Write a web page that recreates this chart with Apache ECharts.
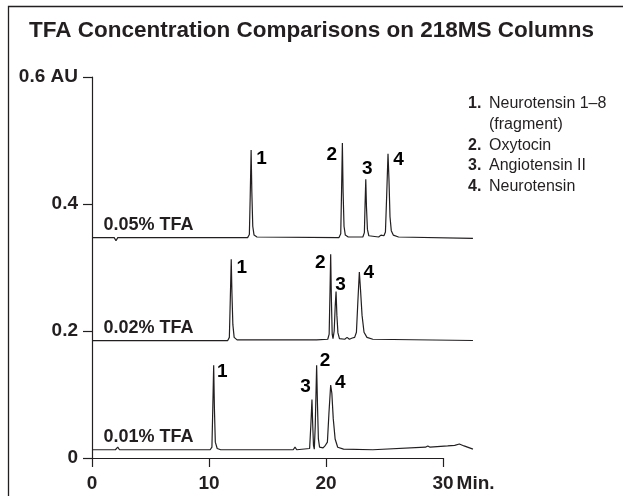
<!DOCTYPE html>
<html>
<head>
<meta charset="utf-8">
<script src="https://cdn.jsdelivr.net/npm/echarts@6/dist/echarts.min.js"></script>
<style>
html,body{margin:0;padding:0;background:#fff;}
#chart{width:623px;height:496px;}
</style>
</head>
<body>
<div id="chart"></div>
<script>
// ---- data ----
const titleText = 'TFA Concentration Comparisons on 218MS Columns';
const xTicks = [0, 10, 20, 30];
const yTicks = [0, 0.2, 0.4, 0.6];
const xUnit = 'Min.';
const yUnit = 'AU';
const traceNames = ['0.05% TFA', '0.02% TFA', '0.01% TFA'];
const peakIds = ['1', '2', '3', '4'];
const compounds = ['Neurotensin 1–8\n(fragment)', 'Oxytocin', 'Angiotensin II', 'Neurotensin'];

// time (min), absorbance (AU, offset traces)
const trace005 = [[0,0.347],[1.9,0.347],[2.05,0.342],[2.2,0.347],[13.3,0.347],[13.45,0.352],[13.52,0.41],[13.6,0.485],[13.66,0.42],[13.74,0.365],[13.85,0.351],[14.1,0.348],[21.1,0.347],[21.26,0.353],[21.33,0.42],[21.4,0.496],[21.46,0.42],[21.54,0.365],[21.65,0.351],[21.9,0.348],[23.15,0.348],[23.28,0.355],[23.34,0.40],[23.4,0.439],[23.46,0.395],[23.54,0.36],[23.66,0.35],[24.5,0.348],[24.7,0.351],[24.82,0.349],[24.95,0.350],[25.08,0.356],[25.18,0.41],[25.3,0.479],[25.38,0.44],[25.47,0.38],[25.58,0.358],[25.75,0.351],[26.2,0.348],[32.56,0.346]];
const trace002 = [[0,0.185],[1.9,0.185],[2.05,0.182],[2.2,0.185],[11.6,0.185],[11.74,0.19],[11.82,0.25],[11.9,0.313],[11.96,0.26],[12.04,0.21],[12.15,0.19],[12.4,0.186],[18.9,0.186],[19.05,0.189],[19.2,0.186],[20.15,0.187],[20.27,0.195],[20.34,0.26],[20.4,0.321],[20.46,0.25],[20.53,0.195],[20.6,0.188],[20.7,0.2],[20.79,0.24],[20.86,0.262],[20.93,0.225],[21.02,0.197],[21.15,0.188],[21.6,0.187],[21.8,0.19],[22.0,0.187],[22.25,0.189],[22.45,0.19],[22.6,0.198],[22.72,0.245],[22.85,0.293],[22.95,0.265],[23.08,0.225],[23.25,0.198],[23.5,0.19],[24.0,0.187],[32.56,0.185]];
const trace001 = [[0,0.013],[2.0,0.013],[2.2,0.017],[2.35,0.013],[10.1,0.013],[10.25,0.017],[10.32,0.075],[10.4,0.146],[10.46,0.08],[10.54,0.025],[10.7,0.015],[11.0,0.013],[17.2,0.013],[17.35,0.017],[17.5,0.013],[18.6,0.015],[18.7,0.05],[18.8,0.092],[18.86,0.055],[18.93,0.02],[19.0,0.014],[19.08,0.05],[19.2,0.146],[19.27,0.085],[19.35,0.03],[19.45,0.017],[19.6,0.019],[19.75,0.016],[19.95,0.02],[20.12,0.025],[20.25,0.07],[20.4,0.115],[20.5,0.102],[20.62,0.062],[20.78,0.03],[21.0,0.017],[21.5,0.014],[24.0,0.013],[28.5,0.017],[28.7,0.019],[28.9,0.017],[30.4,0.019],[31.0,0.02],[31.4,0.022],[31.8,0.019],[32.56,0.014]];

// peak apexes per trace, in order of peakIds
const peaks005 = [[13.6,0.485],[21.4,0.496],[23.4,0.439],[25.3,0.479]];
const peaks002 = [[11.9,0.313],[20.4,0.321],[20.86,0.262],[22.85,0.293]];
const peaks001 = [[10.4,0.146],[19.2,0.146],[18.8,0.092],[20.4,0.115]];

// ---- styles / layout ----
const INK = '#231f20';
const FONT = 'Liberation Sans, Arial, sans-serif';
const gridLeft = 92, gridTop = 77, gridBottom = 38;
const axisWidth = 351;           // 0..30 min
const dataMax = 32.56;           // traces run past 30 min
const dataWidth = axisWidth * dataMax / xTicks[xTicks.length - 1];

// label offsets (px) from each apex, per trace
const peakLabelOffsets = [
  [[11,9],[-10,12],[2,-10],[11,6]],
  [[11,9],[-10,9],[5,-6],[10,1]],
  [[9,7],[9,-4],[-6,-12],[10,-2]]
];
const traces = [trace005, trace002, trace001];
const peaks = [peaks005, peaks002, peaks001];

const hiddenMarker = { color: 'transparent', opacity: 1 };
const series = [];
traces.forEach((tr, i) => {
  series.push({
    type: 'line', xAxisIndex: 1, yAxisIndex: 1, data: tr,
    showSymbol: false, symbol: 'none', silent: true, animation: false,
    lineStyle: { color: INK, width: 1.2 }, z: 3
  });
  // trace name, anchored at the trace's first point
  series.push({
    type: 'scatter', xAxisIndex: 1, yAxisIndex: 1, symbolSize: 1,
    itemStyle: hiddenMarker, silent: true, animation: false,
    data: [{
      value: tr[0],
      label: {
        show: true, formatter: traceNames[i], position: [12, -3],
        align: 'left', verticalAlign: 'bottom', opacity: 1,
        fontFamily: FONT, fontWeight: 'bold', fontSize: 18, color: INK
      }
    }], z: 4
  });
  // peak numbers
  series.push({
    type: 'scatter', xAxisIndex: 1, yAxisIndex: 1, symbolSize: 1,
    itemStyle: hiddenMarker, silent: true, animation: false,
    data: peaks[i].map((p, k) => ({
      value: p,
      label: {
        show: true, formatter: peakIds[k], opacity: 1,
        position: peakLabelOffsets[i][k], align: 'center', verticalAlign: 'middle',
        fontFamily: FONT, fontWeight: 'bold', fontSize: 19, color: '#000'
      }
    })), z: 4
  });
});

// legend of compounds as text
const legendEls = [];
let ly = 104;
compounds.forEach((c, i) => {
  legendEls.push({ type: 'text', style: { text: (i + 1) + '.', x: 468, y: ly, fill: INK,
    font: 'bold 16px ' + FONT, textVerticalAlign: 'middle' } });
  c.split('\n').forEach(line => {
    legendEls.push({ type: 'text', style: { text: line, x: 489, y: ly, fill: INK,
      font: '16px ' + FONT, textVerticalAlign: 'middle' } });
    ly += 20.6;
  });
});

const xMaxTick = xTicks[xTicks.length - 1];
const chart = echarts.init(document.getElementById('chart'), null, { renderer: 'canvas' });
chart.setOption({
  backgroundColor: '#fff',
  animation: false,
  title: {
    text: titleText, left: 'center', top: 19, padding: 0,
    textStyle: { fontFamily: FONT, fontWeight: 'bold', fontSize: 22.5, color: INK }
  },
  grid: [
    { left: gridLeft, top: gridTop, bottom: gridBottom, width: axisWidth },
    { left: gridLeft, top: gridTop, bottom: gridBottom, width: dataWidth }
  ],
  xAxis: [
    {
      gridIndex: 0, type: 'value', min: xTicks[0], max: xMaxTick,
      interval: xTicks[1] - xTicks[0],
      axisLine: { show: true, lineStyle: { color: INK, width: 1.2 } },
      axisTick: { show: true, length: 9, lineStyle: { color: INK, width: 1.2 } },
      splitLine: { show: false },
      axisLabel: {
        margin: 16, fontFamily: FONT, fontWeight: 'bold', fontSize: 19, color: INK,
        formatter: v => v === xMaxTick ? '{p|}' + v + '{u|' + xUnit + '}' : String(v),
        rich: {
          p: { width: 41 },
          u: { fontFamily: FONT, fontWeight: 'bold', fontSize: 19, color: INK, padding: [0, 0, 0, 3] }
        }
      }
    },
    { gridIndex: 1, type: 'value', min: 0, max: dataMax, show: false }
  ],
  yAxis: [
    {
      gridIndex: 0, type: 'value', min: yTicks[0], max: yTicks[yTicks.length - 1],
      interval: yTicks[1] - yTicks[0],
      axisLine: { show: true, lineStyle: { color: INK, width: 1.2 } },
      axisTick: { show: true, length: 9, lineStyle: { color: INK, width: 1.2 } },
      splitLine: { show: false },
      axisLabel: {
        margin: 14, fontFamily: FONT, fontWeight: 'bold', fontSize: 19, color: INK,
        formatter: v => {
          const s = String(Number(v.toFixed(1)));
          return Math.abs(v - yTicks[yTicks.length - 1]) < 1e-9 ? s + ' ' + yUnit : s;
        }
      }
    },
    { gridIndex: 1, type: 'value', min: 0, max: yTicks[yTicks.length - 1], show: false }
  ],
  series: series,
  graphic: [
    { type: 'polyline', shape: { points: [[8.5, 496], [8.5, 6.5], [623, 6.5]] },
      style: { stroke: INK, lineWidth: 1.3, fill: null }, z: 10 },
    { type: 'group', children: legendEls }
  ]
});
</script>
</body>
</html>
